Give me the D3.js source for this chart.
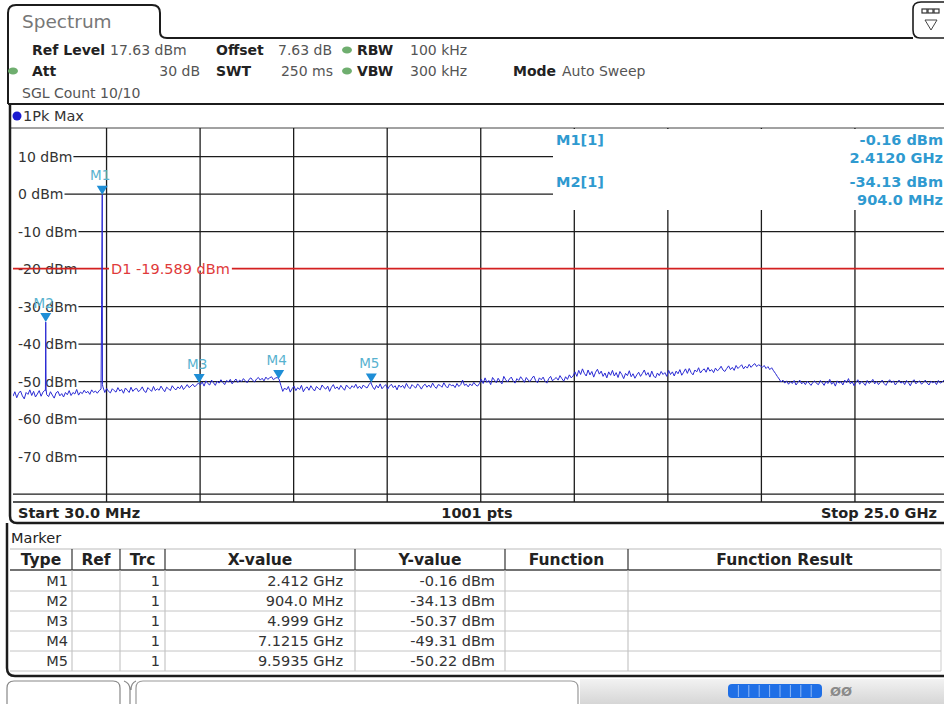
<!DOCTYPE html>
<html><head><meta charset="utf-8">
<script src="https://cdn.jsdelivr.net/npm/d3@7"></script>
<style>
body{margin:0;background:#fff}
svg{display:block;font-family:"DejaVu Sans",Verdana,sans-serif}
</style>
</head><body>
<svg id="c" width="944" height="704"></svg>
<script>
// ---------------- data ----------------
const startGHz = 0.03, stopGHz = 25.0;
const refLevelDbm = 17.63, rangeDb = 100;
const yTickValues = [10, 0, -10, -20, -30, -40, -50, -60, -70, -80];
const yTickLabels = ["10 dBm","0 dBm","-10 dBm","-20 dBm","-30 dBm","-40 dBm","-50 dBm","-60 dBm","-70 dBm",""];
const xDivisions = 10;
const noiseStepGHz = 0.05;
const noiseDbm = [
  // 0.03 .. 2.33 GHz
  -53.9,-52.7,-54.3,-53.1,-52.5,-53.8,-54.6,-52.9,-53.4,-52.2,
  -53.7,-52.6,-54.1,-53.3,-52.4,-53.9,-52.8,-52.3,-53.5,-54.0,
  -52.7,-53.6,-54.4,-53.0,-52.6,-53.8,-53.2,-54.1,-52.9,-53.5,
  -52.4,-53.7,-52.9,-53.3,-52.1,-53.6,-52.8,-53.2,-52.3,-53.0,
  -52.6,-53.4,-52.2,-52.9,-52.5,-53.1,-52.4,
  -52.0,
  // 2.43 .. 4.98 GHz
  -51.4,-52.9,-51.8,-52.6,-53.0,-51.9,-52.4,-52.8,-51.6,-52.5,
  -52.1,-53.1,-51.7,-52.3,-52.9,-51.5,-52.6,-52.0,-51.8,-52.7,
  -52.2,-51.4,-52.5,-52.9,-51.6,-52.1,-52.6,-51.3,-52.4,-51.9,
  -52.3,-51.2,-52.0,-52.7,-51.5,-51.9,-52.4,-51.1,-51.8,-52.2,
  -51.4,-51.9,-51.0,-52.1,-51.5,-50.8,-51.6,-51.2,-50.7,-51.4,
  -50.9,-50.37,
  // 5.03 .. 7.08 GHz
  -50.9,-50.1,-51.2,-49.8,-50.5,-50.9,-49.6,-50.3,-51.0,-49.9,
  -50.4,-49.5,-50.2,-50.8,-49.7,-50.1,-49.4,-50.6,-49.9,-49.3,
  -50.2,-49.6,-50.0,-49.2,-49.8,-50.3,-49.4,-49.0,-49.7,-50.1,
  -49.3,-48.9,-49.6,-49.1,-49.8,-48.8,-49.4,-49.0,-48.7,-49.5,
  -49.1,-48.9,
  -49.31,
  // 7.18 .. 9.53 GHz
  -51.0,-52.6,-51.7,-52.2,-51.3,-52.8,-51.9,-51.2,-52.4,-51.6,
  -52.1,-51.0,-52.7,-51.8,-51.4,-52.3,-51.1,-51.9,-52.5,-51.3,
  -51.8,-52.2,-50.9,-51.6,-52.0,-51.2,-52.6,-51.5,-50.8,-51.9,
  -51.4,-52.1,-51.0,-51.7,-52.3,-50.9,-51.5,-51.9,-51.1,-51.6,
  -50.7,-51.8,-51.2,-51.9,-50.9,-51.4,-51.7,-50.8,
  -50.22,
  // 9.63 .. 12.48 GHz
  -51.4,-52.1,-51.0,-51.7,-50.6,-51.9,-51.3,-50.8,-52.0,-51.2,
  -50.7,-51.6,-51.1,-52.2,-50.9,-51.5,-51.0,-51.8,-50.5,-51.4,
  -51.9,-50.8,-51.3,-51.7,-50.6,-51.2,-52.0,-51.1,-50.7,-51.5,
  -50.9,-51.6,-50.4,-51.3,-51.8,-50.8,-51.0,-51.5,-50.3,-51.2,
  -51.7,-50.6,-51.1,-50.9,-51.6,-50.5,-51.3,-50.8,-49.6,-51.0,
  -50.7,-51.4,-50.6,-51.1,-50.2,-50.9,-51.2,-50.5,
  // 12.53 .. 14.98 GHz
  -49.4,-50.5,-49.0,-50.2,-49.7,-50.8,-48.9,-49.6,-50.3,-49.1,
  -49.9,-50.6,-48.6,-49.5,-50.1,-49.3,-48.8,-49.8,-50.4,-49.2,
  -49.7,-48.7,-49.4,-50.2,-48.9,-49.6,-50.0,-49.1,-48.5,-49.7,
  -50.3,-49.0,-49.5,-48.8,-49.9,-50.4,-49.2,-48.6,-49.8,-49.3,
  -48.9,-49.6,-48.4,-49.2,-49.9,-48.7,-49.4,-48.2,-49.0,-48.5,
  // 15.03 .. 17.48 GHz
  -47.4,-48.6,-47.0,-48.1,-46.6,-47.8,-48.5,-46.9,-48.2,-47.3,
  -48.8,-47.5,-46.7,-48.0,-47.2,-48.6,-47.7,-49.0,-47.4,-48.3,
  -47.0,-48.5,-47.6,-48.9,-47.3,-48.1,-49.2,-47.8,-48.4,-47.1,
  -48.7,-47.9,-49.1,-48.2,-47.5,-48.6,-47.8,-46.9,-48.3,-47.6,
  -48.8,-47.2,-48.5,-49.0,-47.7,-48.4,-47.3,-48.1,-47.6,-48.6,
  // 17.53 .. 19.98 GHz
  -47.0,-48.1,-47.4,-48.5,-47.2,-47.9,-46.8,-48.3,-47.5,-46.6,
  -47.8,-46.5,-47.6,-48.2,-46.9,-47.4,-46.3,-47.7,-47.0,-46.6,
  -47.5,-46.2,-47.2,-46.8,-47.6,-46.4,-47.1,-46.7,-45.9,-46.9,
  -47.3,-46.5,-45.8,-46.8,-46.2,-47.0,-45.7,-46.5,-46.0,-45.5,
  -46.6,-45.9,-46.4,-45.4,-46.2,-45.6,-45.2,-46.0,-45.5,-45.8,
  // 20.03 .. 21.48 GHz
  -46.2,-45.7,-46.5,-46.0,-46.8,-46.3,-47.1,-47.8,-48.6,-49.3,
  -50.1,-49.6,-50.4,-49.8,-50.7,-50.0,-50.5,-49.7,-50.9,-50.2,
  -49.6,-50.6,-50.1,-50.8,-49.9,-50.4,-51.0,-50.2,-49.8,-50.5,
  // 21.53 .. 25.03 GHz
  -50.8,-49.7,-50.3,-51.0,-49.9,-50.5,-49.4,-50.7,-50.1,-51.2,
  -49.8,-50.4,-50.0,-50.9,-49.6,-50.3,-49.2,-50.6,-50.0,-51.1,
  -50.2,-49.5,-50.7,-49.9,-50.4,-51.0,-49.7,-50.5,-50.1,-49.4,
  -50.6,-49.9,-50.8,-50.2,-49.6,-50.5,-51.0,-50.1,-49.5,-50.3,
  -49.8,-50.9,-50.2,-49.6,-50.4,-50.0,-50.8,-49.7,-50.3,-51.1,
  -50.0,-49.5,-50.6,-50.1,-49.8,-50.7,-50.2,-49.6,-50.4,-50.9,
  -49.9,-50.3,-50.0,-50.8,-49.7,-50.4,-50.1,-49.6,-50.5,-50.2,
  -50.3
];
const spikePoints = [[0.895,-52.4],[0.904,-34.13],[0.913,-52.0],[2.395,-29.5],[2.412,-0.16],[2.418,-50.8]];
const markerNames = ["M1","M2","M3","M4","M5"];
const markerFreqGHz = [2.412, 0.904, 4.999, 7.1215, 9.5935];
const markerDbm = [-0.16, -34.13, -50.37, -49.31, -50.22];
const markerXText = ["2.412 GHz","904.0 MHz","4.999 GHz","7.1215 GHz","9.5935 GHz"];
const markerYText = ["-0.16 dBm","-34.13 dBm","-50.37 dBm","-49.31 dBm","-50.22 dBm"];
const infoLabels = ["M1[1]","M2[1]"];
const infoLevels = ["-0.16 dBm","-34.13 dBm"];
const infoFreqs = ["2.4120 GHz","904.0 MHz"];
const displayLineDbm = -19.589;
const displayLineText = "D1 -19.589 dBm";
const tableHeaders = ["Type","Ref","Trc","X-value","Y-value","Function","Function Result"];

// ---------------- layout ----------------
const svg = d3.select("#c");
const P = {left: 13, right: 948.5, top: 128, bottom: 503};
const x = d3.scaleLinear().domain([startGHz, stopGHz]).range([P.left, P.right]);
const y = d3.scaleLinear().domain([refLevelDbm, refLevelDbm - rangeDb]).range([P.top, P.bottom]);

const ink = "#1c1c1c";

// ---------- top tab / header ----------
svg.append("path")
  .attr("d", "M8,104 L8,13 Q8,5 16,5 L152,5 Q160,5 160,13 L160,32 Q160,38 167,38 L913,38")
  .attr("fill","none").attr("stroke",ink).attr("stroke-width",2);
svg.append("path")
  .attr("d","M913,30 L913,9 Q913,2 921,2 L946,2 M913,30 Q913,38 920,38 L946,38")
  .attr("fill","none").attr("stroke",ink).attr("stroke-width",1.6);
[0,1,2].forEach(i=>svg.append("rect").attr("x",922+i*6).attr("y",9).attr("width",5).attr("height",4).attr("fill","#fff").attr("stroke","#333").attr("stroke-width",1.2));
svg.append("path").attr("d","M925,20 L937,20 L931,30 Z").attr("fill","none").attr("stroke","#444").attr("stroke-width",1);

svg.append("text").attr("x",22).attr("y",22).attr("dy","0.35em").attr("font-size",18.5).attr("fill","#777").text("Spectrum");

const hdr = svg.append("g").attr("font-size",14);
function ht(xx, yy, s, bold, anchor, col){
  hdr.append("text").attr("x",xx).attr("y",yy).attr("dy","0.35em")
    .attr("font-weight",bold?"bold":"normal").attr("text-anchor",anchor||"start")
    .attr("fill",col||(bold?"#222":"#555")).text(s);
}
function dot(xx, yy){
  hdr.append("ellipse").attr("cx",xx).attr("cy",yy).attr("rx",5).attr("ry",3.5).attr("fill","#6fae6f");
}
ht(32,50,"Ref Level",true); ht(110,50,"17.63 dBm");
ht(216,50,"Offset",true); ht(278,50,"7.63 dB");
dot(347,50); ht(357,50,"RBW",true); ht(410,50,"100 kHz");
dot(13,71); ht(32,71,"Att",true); ht(200,71,"30 dB",false,"end");
ht(216,71,"SWT",true); ht(333,71,"250 ms",false,"end");
dot(347,71); ht(357,71,"VBW",true); ht(410,71,"300 kHz");
ht(513,71,"Mode",true); ht(562,71,"Auto Sweep");
ht(22,93,"SGL Count 10/10",false,"start","#555");

// ---------- trace title bar ----------
svg.append("line").attr("x1",8).attr("x2",944).attr("y1",104).attr("y2",104).attr("stroke",ink).attr("stroke-width",2);
svg.append("line").attr("x1",11).attr("x2",944).attr("y1",128).attr("y2",128).attr("stroke","#444").attr("stroke-width",1);
svg.append("circle").attr("cx",17).attr("cy",116).attr("r",4.5).attr("fill","#1a1ad0");
svg.append("text").attr("x",23).attr("y",116).attr("dy","0.35em").attr("font-size",14.5).attr("fill","#333").text("1Pk Max");

// ---------- plot ----------
const defs = svg.append("defs");
defs.append("clipPath").attr("id","pc")
  .append("rect").attr("x",P.left).attr("y",P.top).attr("width",944-P.left).attr("height",502-P.top);

const grid = svg.append("g");
const xGrid = d3.range(1, xDivisions).map(k => startGHz + k*(stopGHz-startGHz)/xDivisions);
grid.selectAll("line.v").data(xGrid).join("line")
  .attr("x1",d=>x(d)).attr("x2",d=>x(d)).attr("y1",P.top).attr("y2",502)
  .attr("stroke",ink).attr("stroke-width",1.3);

const labG = svg.append("g").attr("font-size",14).attr("fill","#333");
yTickValues.forEach((v,i)=>{
  let x0 = P.left;
  if (yTickLabels[i]) {
    const tt = labG.append("text").attr("x",18).attr("y",y(v)).attr("dy","0.35em").text(yTickLabels[i]);
    x0 = 18 + tt.node().getComputedTextLength() + 1;
  }
  // the display line is drawn on top of the gridline it nearly coincides with
  if (Math.abs(v - displayLineDbm) < 1) return;
  grid.append("line").attr("x1",x0).attr("x2",944).attr("y1",y(v)).attr("y2",y(v))
    .attr("stroke",ink).attr("stroke-width",1.3);
});
svg.append("line").attr("x1",P.left).attr("x2",944).attr("y1",502).attr("y2",502).attr("stroke",ink).attr("stroke-width",1.5);

// marker info box (hides grid)
svg.append("rect").attr("x",553).attr("y",129).attr("width",400).attr("height",81).attr("fill","#fff");
const info = svg.append("g").attr("font-size",14.5).attr("font-weight","bold").attr("fill","#2f9ad0");
infoLabels.forEach((s,i)=>{
  const y0 = 140 + i*42;
  info.append("text").attr("x",556).attr("y",y0).attr("dy","0.35em").text(s);
  info.append("text").attr("x",943).attr("y",y0).attr("dy","0.35em").attr("text-anchor","end").text(infoLevels[i]);
  info.append("text").attr("x",943).attr("y",y0+18).attr("dy","0.35em").attr("text-anchor","end").text(infoFreqs[i]);
});

// display line D1
const yD1 = y(displayLineDbm) + 1;
svg.append("line").attr("x1",P.left).attr("x2",944).attr("y1",yD1).attr("y2",yD1)
  .attr("stroke","#d42020").attr("stroke-width",1.7);
const d1bg = svg.append("rect").attr("fill","#fff");
const d1 = svg.append("text").attr("x",111).attr("y",yD1).attr("dy","0.35em")
  .attr("font-size",14.5).attr("fill","#e03a3a").text(displayLineText);
const bb1 = d1.node().getBBox();
d1bg.attr("x",bb1.x-2).attr("y",yD1-2).attr("width",bb1.width+4).attr("height",4);

// trace
const trace = noiseDbm.map((v,i)=>[startGHz + i*noiseStepGHz, v]).concat(spikePoints)
  .sort((a,b)=>a[0]-b[0]);
svg.append("path").datum(trace).attr("clip-path","url(#pc)")
  .attr("d", d3.line().x(d=>x(d[0])).y(d=>y(d[1])))
  .attr("fill","none").attr("stroke","#2a2ad4").attr("stroke-width",1).attr("stroke-linejoin","round");

// markers
const mk = svg.append("g");
markerNames.forEach((n,i)=>{
  const mx = x(markerFreqGHz[i]), my = y(markerDbm[i]);
  mk.append("path").attr("d",`M${mx-5.5},${my-9} L${mx+5.5},${my-9} L${mx},${my} Z`).attr("fill","#1e8ed6");
  mk.append("text").attr("x",mx-2).attr("y",my-19).attr("dy","0.35em").attr("text-anchor","middle")
    .attr("font-size",13.5).attr("fill","#58b2cf").text(n);
});

// plot bottom bar
const bb = svg.append("g").attr("font-size",14.5).attr("font-weight","bold").attr("fill","#222");
bb.append("text").attr("x",18).attr("y",513).attr("dy","0.35em").text("Start 30.0 MHz");
bb.append("text").attr("x",477).attr("y",513).attr("dy","0.35em").attr("text-anchor","middle").text("1001 pts");
bb.append("text").attr("x",937).attr("y",513).attr("dy","0.35em").attr("text-anchor","end").text("Stop 25.0 GHz");
svg.append("path").attr("d","M10,104 L10,516 Q10,523 17,523 L944,523").attr("fill","none").attr("stroke",ink).attr("stroke-width",2.5);

// ---------- marker table ----------
svg.append("text").attr("x",11).attr("y",538).attr("dy","0.35em").attr("font-size",14.5).attr("fill","#222").text("Marker");
const colX = [10,72,120,165,355,505,628,941];
const rowTop = 571, rowH = 20;
const tb = svg.append("g");
tb.append("line").attr("x1",10).attr("x2",941).attr("y1",549).attr("y2",549).attr("stroke","#bbb");
tb.append("line").attr("x1",10).attr("x2",941).attr("y1",570).attr("y2",570).attr("stroke","#444").attr("stroke-width",1.5);
tableHeaders.forEach((h,i)=>{
  tb.append("text").attr("x",(colX[i]+colX[i+1])/2).attr("y",560).attr("dy","0.35em")
    .attr("text-anchor","middle").attr("font-size",15.5).attr("font-weight","bold").attr("fill","#222").text(h);
});
colX.slice(1,7).forEach(cx=>{
  tb.append("line").attr("x1",cx).attr("x2",cx).attr("y1",549).attr("y2",570).attr("stroke","#333").attr("stroke-width",1.2);
  tb.append("line").attr("x1",cx).attr("x2",cx).attr("y1",570).attr("y2",rowTop+5*rowH).attr("stroke","#bbb");
});
tb.append("line").attr("x1",941).attr("x2",941).attr("y1",549).attr("y2",rowTop+5*rowH).attr("stroke","#ccc");
markerNames.forEach((n,i)=>{
  const cy = rowTop + i*rowH + rowH/2;
  tb.append("line").attr("x1",10).attr("x2",941).attr("y1",rowTop+(i+1)*rowH).attr("y2",rowTop+(i+1)*rowH).attr("stroke","#c4c4c4");
  const g = tb.append("g").attr("font-size",14.5).attr("fill","#333");
  g.append("text").attr("x",68).attr("y",cy).attr("dy","0.35em").attr("text-anchor","end").text(n);
  g.append("text").attr("x",160).attr("y",cy).attr("dy","0.35em").attr("text-anchor","end").text("1");
  g.append("text").attr("x",343).attr("y",cy).attr("dy","0.35em").attr("text-anchor","end").text(markerXText[i]);
  g.append("text").attr("x",495).attr("y",cy).attr("dy","0.35em").attr("text-anchor","end").text(markerYText[i]);
});
svg.append("path").attr("d","M7,523 L7,668 Q7,676 15,676 L944,676").attr("fill","none").attr("stroke",ink).attr("stroke-width",2.5);

// ---------- status bar ----------
const grad = defs.append("linearGradient").attr("id","sg").attr("x1",0).attr("x2",0).attr("y1",0).attr("y2",1);
grad.append("stop").attr("offset","0").attr("stop-color","#f2f2f2");
grad.append("stop").attr("offset","1").attr("stop-color","#d6d6d6");
svg.append("rect").attr("x",580).attr("y",679).attr("width",364).attr("height",25).attr("fill","url(#sg)");
svg.append("path").attr("d","M120,706 L120,688 Q120,681 113,681 L14,681 Q7,681 7,688 L7,706").attr("fill","#fff").attr("stroke","#888").attr("stroke-width",1.2);
svg.append("path").attr("d","M124,681 Q130,683 130,690 L130,706 M136,681 Q131,683 131,690").attr("fill","none").attr("stroke","#888").attr("stroke-width",1.2);
svg.append("path").attr("d","M578,706 L578,688 Q578,681 571,681 L143,681 Q136,681 136,688 L136,706").attr("fill","#fff").attr("stroke","#999").attr("stroke-width",1.2);
svg.append("rect").attr("x",728).attr("y",684).attr("width",94).attr("height",14).attr("rx",4).attr("fill","#1f6fe6");
d3.range(1,9).forEach(k=>svg.append("line").attr("x1",728+k*10.4).attr("x2",728+k*10.4).attr("y1",685).attr("y2",697).attr("stroke","#8fb8f5").attr("stroke-width",1));
svg.append("text").attr("x",830).attr("y",691).attr("dy","0.35em").attr("font-size",13).attr("font-weight","bold").attr("fill","#8a8a8a").text("ØØ");
</script>
</body></html>
